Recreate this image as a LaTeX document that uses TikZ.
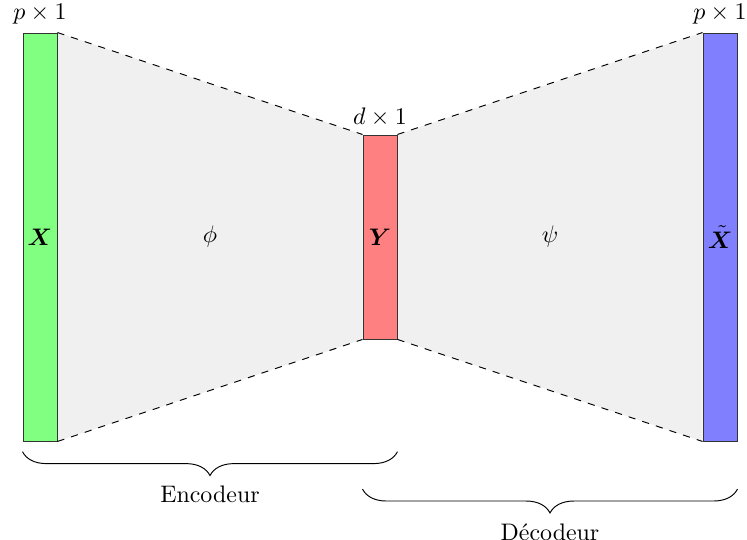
\documentclass[tikz,border=0pt]{standalone}
\usepackage{fontspec}
\usepackage{amsmath,amssymb,bm}
\usepackage{tikz}
\usetikzlibrary{positioning,calc,backgrounds,decorations.pathreplacing}
\tikzset{
	vecbox/.style={rectangle, draw=black!80, minimum width=0.5cm, inner sep=0pt, align=center},
	linkline/.style={dashed, black},
	bracebar/.style={decorate, decoration={brace, amplitude=10pt}, thin}
}
\begin{document}
\begin{tikzpicture}
	\useasboundingbox (-0.338,-1.456) rectangle (10.647,6.485);
	% the three vectors
	\node[vecbox, fill=green!50, minimum height=6cm] (x) at (0.25,3) {$\bm{X}$};
	\node[vecbox, fill=red!50, minimum height=3cm] (y) at (5.25,3) {$\bm{Y}$};
	\node[vecbox, fill=blue!50, minimum height=6cm] (xt) at (10.25,3) {$\tilde{\bm{X}}$};
	% shaded funnels
	\begin{scope}[on background layer]
		\fill[black!6] (x.north east) -- (y.north west) -- (y.south west) -- (x.south east) -- cycle;
		\fill[black!6] (y.north east) -- (xt.north west) -- (xt.south west) -- (y.south east) -- cycle;
	\end{scope}
	\draw[linkline] (x.north east) -- (y.north west);
	\draw[linkline] (x.south east) -- (y.south west);
	\draw[linkline] (y.north east) -- (xt.north west);
	\draw[linkline] (y.south east) -- (xt.south west);
	% sizes
	\node[above=0pt of x] (xdim) {$p\times 1$};
	\node[above=0pt of y] (ydim) {$d\times 1$};
	\node[above=0pt of xt] (xtdim) {$p\times 1$};
	% maps
	\node (phi) at ($(x.east)!0.5!(y.west)$) {$\phi$};
	\node (psi) at ($(y.east)!0.5!(xt.west)$) {$\psi$};
	% braces
	\coordinate (encL) at ($(x.south west)+(0,-0.15)$);
	\coordinate (encR) at (encL -| y.east);
	\coordinate (decL) at ($(y.west |- x.south)+(0,-0.7)$);
	\coordinate (decR) at (decL -| xt.east);
	\draw[bracebar] (encR) -- node[below=11pt] (enc) {Encodeur} (encL);
	\draw[bracebar] (decR) -- node[below=11pt] (dec) {Décodeur} (decL);
\end{tikzpicture}
\end{document}
